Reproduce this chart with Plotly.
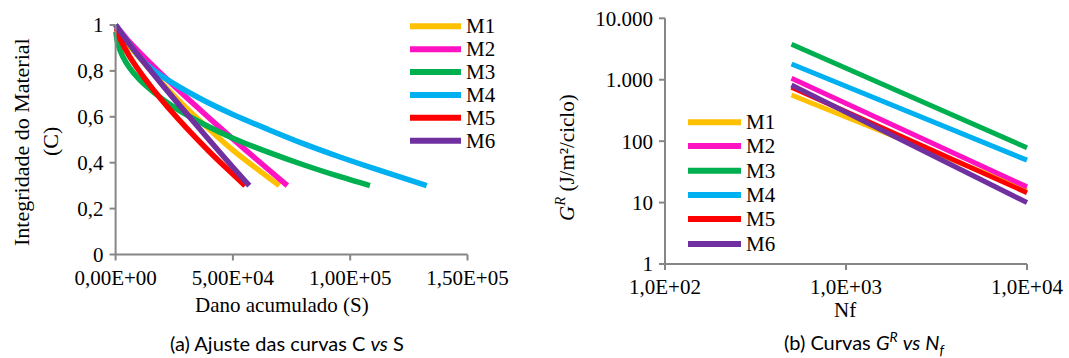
import math
import plotly.graph_objects as go

W, H = 1069, 358

# ---------------- data ----------------
series = ["M1", "M2", "M3", "M4", "M5", "M6"]
colors = ["#FFC000", "#FF12C2", "#00B050", "#00B0F0", "#FF0000", "#7030A0"]

# (a) C vs S
s_m1 = [0, 5000, 10000, 20000, 30000, 40000, 50000, 60000, 69800]
c_m1 = [1.0, 0.92, 0.86, 0.745, 0.64, 0.545, 0.455, 0.375, 0.30]
s_m2 = [0, 5000, 10000, 20000, 30000, 40000, 50000, 60000, 73200]
c_m2 = [1.0, 0.937, 0.883, 0.782, 0.686, 0.594, 0.503, 0.415, 0.30]
s_m3 = [100, 1000, 3000, 6000, 10000, 16000, 25000, 37000, 50000, 65000, 80000, 95000, 108400]
c_m3 = [0.97, 0.917, 0.864, 0.813, 0.764, 0.709, 0.641, 0.571, 0.507, 0.446, 0.391, 0.341, 0.30]
s_m4 = [0, 5000, 10000, 15000, 20000, 35000, 50000, 65000, 80000, 95000, 110000, 132600]
c_m4 = [1.0, 0.93, 0.862, 0.812, 0.775, 0.685, 0.61, 0.545, 0.483, 0.427, 0.375, 0.30]
s_m5 = [300, 2000, 6000, 12000, 20000, 30000, 40000, 48000, 55200]
c_m5 = [0.985, 0.939, 0.862, 0.773, 0.669, 0.554, 0.448, 0.369, 0.30]
s_m6 = [0, 5000, 10000, 20000, 30000, 40000, 50000, 57000]
c_m6 = [1.0, 0.929, 0.864, 0.738, 0.617, 0.498, 0.38, 0.30]

left_s = [s_m1, s_m2, s_m3, s_m4, s_m5, s_m6]
left_c = [c_m1, c_m2, c_m3, c_m4, c_m5, c_m6]

left_xticks = [0, 50000, 100000, 150000]
left_xticktext = ["0,00E+00", "5,00E+04", "1,00E+05", "1,50E+05"]
left_yticks = [0, 0.2, 0.4, 0.6, 0.8, 1.0]
left_yticktext = ["0", "0,2", "0,4", "0,6", "0,8", "1"]

# (b) GR vs Nf
nf = [500, 10000]
g_m1 = [564, 16]
g_m2 = [1054, 18]
g_m3 = [3775, 78]
g_m4 = [1803, 49]
g_m5 = [752, 14.5]
g_m6 = [820, 10]
right_g = [g_m1, g_m2, g_m3, g_m4, g_m5, g_m6]

right_xticks = [100, 1000, 10000]
right_xticktext = ["1,0E+02", "1,0E+03", "1,0E+04"]
right_yticks = [1, 10, 100, 1000, 10000]
right_yticktext = ["1", "10", "100", "1.000", "10.000"]

# ---------------- layout geometry (pixels) ----------------
SERIF = "Liberation Serif"
CAP = "Lato"
AXC = "#868686"
FS = 21

def fx(px):
    return px / W

def fy(py):
    return 1 - py / H

# left panel
L_X0, L_X1 = 115.6, 467.5          # S=0 , S=1.5e5
L_XMIN = -2600
L_PXMIN = L_X0 + L_XMIN * (L_X1 - L_X0) / 150000
L_Y0, L_Y1 = 254.5, 25.0           # C=0 , C=1
L_YMAX = 1.015
L_PYMAX = L_Y0 - L_YMAX * (L_Y0 - L_Y1)

# right panel
R_X0, R_X1 = 665.0, 1027.0         # 1e2 , 1e4
R_XMAXLOG = 4.015
R_PXMAX = R_X0 + (R_XMAXLOG - 2) * (R_X1 - R_X0) / 2
R_Y0, R_Y1 = 264.0, 18.3           # 1 , 1e4

fig = go.Figure()

for name, col, s, c in zip(series, colors, left_s, left_c):
    fig.add_trace(go.Scatter(x=s, y=c, mode="lines", name=name, showlegend=False,
                             line=dict(color=col, width=5.5, shape="spline", smoothing=0.8),
                             xaxis="x", yaxis="y"))

for name, col, g in zip(series, colors, right_g):
    fig.add_trace(go.Scatter(x=nf, y=g, mode="lines", name=name, showlegend=False,
                             line=dict(color=col, width=5),
                             xaxis="x2", yaxis="y2"))

shapes = []
def seg(x0, y0, x1, y1, color=AXC, width=2):
    shapes.append(dict(type="line", xref="paper", yref="paper",
                       x0=fx(x0), y0=fy(y0), x1=fx(x1), y1=fy(y1),
                       line=dict(color=color, width=width)))

# left axis lines and tick marks
seg(L_X0, L_Y0, L_X0, L_Y1)
seg(L_X0, L_Y0, L_X1, L_Y0)
for v in left_yticks:
    py = L_Y0 - v * (L_Y0 - L_Y1)
    seg(L_X0 - 6, py, L_X0, py)
for v in left_xticks:
    px = L_X0 + v * (L_X1 - L_X0) / 150000
    seg(px, L_Y0, px, L_Y0 + 6)

# right axis lines and tick marks
seg(R_X0, R_Y0, R_X0, R_Y1)
seg(R_X0, R_Y0, R_X1, R_Y0)
for v in right_yticks:
    py = R_Y0 - math.log10(v) * (R_Y0 - R_Y1) / 4
    seg(R_X0 - 6, py, R_X0, py)
for v in right_xticks:
    px = R_X0 + (math.log10(v) - 2) * (R_X1 - R_X0) / 2
    seg(px, R_Y0, px, R_Y0 + 6)

# legends
annotations = []
L_LEG_Y = [26.3, 49.2, 72.1, 95.0, 117.7, 140.7]
for name, col, py in zip(series, colors, L_LEG_Y):
    seg(410, py, 461, py, color=col, width=6)
    annotations.append(dict(text=name, xref="paper", yref="paper", x=fx(464), y=fy(py),
                            xanchor="left", yanchor="middle", showarrow=False,
                            font=dict(family=SERIF, size=FS, color="#000")))
R_LEG_Y = [122.3, 146.0, 170.7, 195.0, 219.0, 244.0]
for name, col, py in zip(series, colors, R_LEG_Y):
    seg(688, py, 741, py, color=col, width=6)
    annotations.append(dict(text=name, xref="paper", yref="paper", x=fx(744), y=fy(py),
                            xanchor="left", yanchor="middle", showarrow=False,
                            font=dict(family=SERIF, size=FS, color="#000")))

def ann(text, px, py, size=FS, family=SERIF, angle=0):
    annotations.append(dict(text=text, xref="paper", yref="paper", x=fx(px), y=fy(py),
                            xanchor="center", yanchor="middle", showarrow=False, textangle=angle,
                            font=dict(family=family, size=size, color="#000")))

ann("Integridade do Material", 21, 142, size=22, angle=-90)
ann("(C)", 50, 142, size=22, angle=-90)
ann("Dano acumulado (S)", 282, 305, size=21)
ann("<i>G<sup>R</sup></i> (J/m²/ciclo)", 566, 158, size=21, angle=-90)
ann("Nf", 845, 310, size=21)
ann("(a) Ajuste das curvas C <i>vs</i> S", 287, 343, size=20, family=CAP)
ann("(b) Curvas <i>G<sup>R</sup></i> <i>vs</i> <i>N<sub>f</sub></i>", 865, 343, size=20, family=CAP)

tickfont = dict(family=SERIF, size=FS, color="#000")
common = dict(showgrid=False, zeroline=False, showline=False, tickfont=tickfont,
              automargin=False, ticks="")
fig.update_layout(
    template="none",
    width=W, height=H, autosize=False,
    margin=dict(l=0, r=0, t=0, b=0, pad=0, autoexpand=False),
    font=dict(family=SERIF, size=FS, color="#000"),
    paper_bgcolor="white", plot_bgcolor="white",
    showlegend=False,
    shapes=shapes,
    annotations=annotations,
    xaxis=dict(domain=[fx(L_PXMIN), fx(L_X1)], range=[L_XMIN, 150000],
               tickvals=left_xticks, ticktext=left_xticktext, ticklabelstandoff=8,
               anchor="y", **common),
    yaxis=dict(domain=[fy(L_Y0), fy(L_PYMAX)], range=[0, L_YMAX],
               tickvals=left_yticks, ticktext=left_yticktext, ticklabelstandoff=5,
               anchor="x", **common),
    xaxis2=dict(domain=[fx(R_X0), fx(R_PXMAX)], type="log", range=[2, R_XMAXLOG],
                tickvals=right_xticks, ticktext=right_xticktext, ticklabelstandoff=8,
                anchor="y2", **common),
    yaxis2=dict(domain=[fy(R_Y0), fy(R_Y1)], type="log", range=[0, 4],
                tickvals=right_yticks, ticktext=right_yticktext, ticklabelstandoff=11,
                anchor="x2", **common),
)

fig.write_html("out.html")
